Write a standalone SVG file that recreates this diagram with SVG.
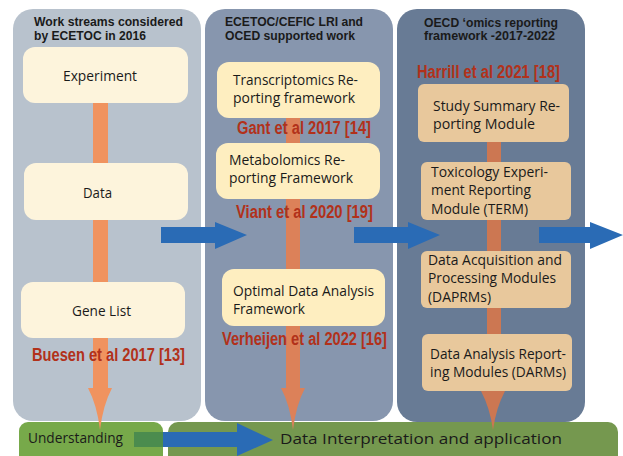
<svg xmlns="http://www.w3.org/2000/svg" width="623" height="456" viewBox="0 0 623 456">
  <style>
    .title { font-family: "Liberation Sans", Arial, sans-serif; font-weight: bold; font-size: 12px; fill: #1a1a1a; }
    .body { font-family: "Open Sans", "Noto Sans", sans-serif; font-size: 14px; fill: #1a1a1a; }
    .cite { font-family: "Liberation Sans", Arial, sans-serif; font-weight: bold; font-size: 17.5px; fill: #b2311a; }
    .boxA { fill: #fdf4dc; }
    .boxB { fill: #feeec0; }
    .boxC { fill: #e8c89c; }
    .blue { fill: #2a6bb5; }
  </style>

  <!-- column panels -->
  <g id="panel-ecetoc-2016">
    <rect x="13" y="9" width="188" height="412" rx="20" fill="#b8c2cd"/>
    <text class="title" x="34" y="26" textLength="149" lengthAdjust="spacingAndGlyphs">Work streams considered</text>
    <text class="title" x="34" y="40" textLength="112" lengthAdjust="spacingAndGlyphs">by ECETOC in 2016</text>
  </g>
  <g id="panel-lri-oecd">
    <rect x="205" y="9" width="188" height="412" rx="20" fill="#8796ae"/>
    <text class="title" x="225" y="26" textLength="138" lengthAdjust="spacingAndGlyphs">ECETOC/CEFIC LRI and</text>
    <text class="title" x="225" y="40" textLength="130" lengthAdjust="spacingAndGlyphs">OCED supported work</text>
  </g>
  <g id="panel-oecd-framework">
    <rect x="397" y="9" width="188" height="413" rx="20" fill="#687b95"/>
    <text class="title" x="424" y="27" textLength="134" lengthAdjust="spacingAndGlyphs">OECD ‘omics reporting</text>
    <text class="title" x="424" y="40" textLength="131" lengthAdjust="spacingAndGlyphs">framework -2017-2022</text>
  </g>

  <!-- bottom bands -->
  <g id="understanding">
    <rect x="19" y="422" width="144" height="44" rx="9" fill="#77a94a"/>
    <text class="body" x="28" y="443" textLength="95" lengthAdjust="spacingAndGlyphs">Understanding</text>
  </g>
  <g id="interpretation">
    <rect x="168" y="422" width="450" height="44" rx="10" fill="#75984f"/>
  </g>

  <!-- connectors -->
  <g id="connectors">
    <!-- vertical flow bars -->
    <rect x="93" y="100" width="15" height="290" fill="#f0935f"/>
    <path d="M88,388 L112,388 Q103,405 100,430 Q97,405 88,388 Z" fill="#f0935f"/>
    <rect x="286" y="115" width="14" height="275" fill="#dc8159"/>
    <path d="M281,388 L305,388 Q296,405 293,430 Q290,405 281,388 Z" fill="#dc8159"/>
    <rect x="487" y="140" width="14" height="252" fill="#cc7752"/>
    <path d="M481,391 L505,391 Q496,408 493,430 Q490,408 481,391 Z" fill="#cc7752"/>
    <!-- horizontal arrows between columns -->
    <path class="blue" d="M161,227 L215,227 L215,222 L247,235 L215,249 L215,243 L161,243 Z"/>
    <path class="blue" d="M354,227 L408,227 L408,222 L440,235 L408,249 L408,243 L354,243 Z"/>
    <path class="blue" d="M539,227 L590,227 L590,222 L623,235 L590,249 L590,243 L539,243 Z"/>
    <!-- arrow along the bottom band -->
    <path class="blue" d="M163,432 L237,432 L237,423 L273,440 L237,456 L237,447 L163,447 Z"/>
    <rect x="134" y="432" width="29" height="15" fill="#4b8c4e"/>
  </g>

  <text class="body" x="280" y="444" font-size="16.5" textLength="282" lengthAdjust="spacingAndGlyphs">Data Interpretation and application</text>

  <!-- column 1 nodes -->
  <g id="experiment">
    <rect class="boxA" x="23" y="47" width="165" height="56" rx="12"/>
    <text class="body" x="63" y="81" textLength="74" lengthAdjust="spacingAndGlyphs">Experiment</text>
  </g>
  <g id="data">
    <rect class="boxA" x="24" y="163" width="164" height="57" rx="12"/>
    <text class="body" x="83" y="198" textLength="29" lengthAdjust="spacingAndGlyphs">Data</text>
  </g>
  <g id="gene-list">
    <rect class="boxA" x="21" y="282" width="164" height="56" rx="12"/>
    <text class="body" x="72" y="316" textLength="59" lengthAdjust="spacingAndGlyphs">Gene List</text>
  </g>
  <text class="cite" x="32" y="361" textLength="153" lengthAdjust="spacingAndGlyphs">Buesen et al 2017 [13]</text>

  <!-- column 2 nodes -->
  <g id="transcriptomics">
    <rect class="boxB" x="217" y="62" width="163" height="56" rx="12"/>
    <text class="body" x="233" y="85" textLength="125" lengthAdjust="spacingAndGlyphs">Transcriptomics Re-</text>
    <text class="body" x="233" y="103" textLength="122" lengthAdjust="spacingAndGlyphs">porting framework</text>
  </g>
  <text class="cite" x="237" y="134" textLength="134" lengthAdjust="spacingAndGlyphs">Gant et al 2017 [14]</text>
  <g id="metabolomics">
    <rect class="boxB" x="216" y="143" width="164" height="56" rx="12"/>
    <text class="body" x="229" y="165" textLength="116" lengthAdjust="spacingAndGlyphs">Metabolomics Re-</text>
    <text class="body" x="229" y="183" textLength="124" lengthAdjust="spacingAndGlyphs">porting Framework</text>
  </g>
  <text class="cite" x="236" y="218" textLength="137" lengthAdjust="spacingAndGlyphs">Viant et al 2020 [19]</text>
  <g id="optimal-analysis">
    <rect class="boxB" x="222" y="269" width="163" height="57" rx="12"/>
    <text class="body" x="233" y="296" textLength="141" lengthAdjust="spacingAndGlyphs">Optimal Data Analysis</text>
    <text class="body" x="233" y="314" textLength="72" lengthAdjust="spacingAndGlyphs">Framework</text>
  </g>
  <text class="cite" x="222" y="345" textLength="165" lengthAdjust="spacingAndGlyphs">Verheijen et al 2022 [16]</text>

  <!-- column 3 nodes -->
  <text class="cite" x="417" y="78" textLength="143" lengthAdjust="spacingAndGlyphs">Harrill et al 2021 [18]</text>
  <g id="study-summary">
    <rect class="boxC" x="418" y="84" width="151" height="58" rx="6"/>
    <text class="body" x="433" y="111" textLength="127" lengthAdjust="spacingAndGlyphs">Study Summary Re-</text>
    <text class="body" x="433" y="129" textLength="102" lengthAdjust="spacingAndGlyphs">porting Module</text>
  </g>
  <g id="term">
    <rect class="boxC" x="421" y="162" width="150" height="58" rx="6"/>
    <text class="body" x="431" y="177" textLength="117" lengthAdjust="spacingAndGlyphs">Toxicology Experi-</text>
    <text class="body" x="431" y="195" textLength="100" lengthAdjust="spacingAndGlyphs">ment Reporting</text>
    <text class="body" x="431" y="214" textLength="97" lengthAdjust="spacingAndGlyphs">Module (TERM)</text>
  </g>
  <g id="daprms">
    <rect class="boxC" x="421" y="251" width="150" height="57" rx="6"/>
    <text class="body" x="428" y="265" textLength="134" lengthAdjust="spacingAndGlyphs">Data Acquisition and</text>
    <text class="body" x="428" y="283" textLength="128" lengthAdjust="spacingAndGlyphs">Processing Modules</text>
    <text class="body" x="428" y="302" textLength="63" lengthAdjust="spacingAndGlyphs">(DAPRMs)</text>
  </g>
  <g id="darms">
    <rect class="boxC" x="422" y="334" width="150" height="57" rx="6"/>
    <text class="body" x="430" y="359" textLength="136" lengthAdjust="spacingAndGlyphs">Data Analysis Report-</text>
    <text class="body" x="430" y="377" textLength="136" lengthAdjust="spacingAndGlyphs">ing Modules (DARMs)</text>
  </g>
</svg>
